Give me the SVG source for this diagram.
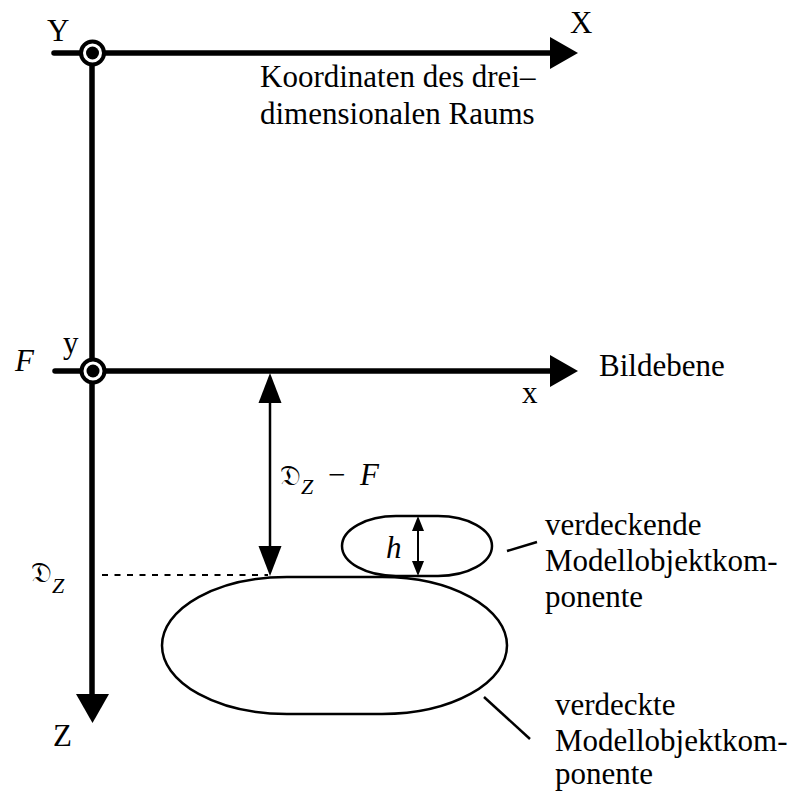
<svg xmlns="http://www.w3.org/2000/svg" width="793" height="792" viewBox="0 0 793 792">
<style>
text, tspan{font-family:'Liberation Serif','Times New Roman',Times,Tinos,'DejaVu Serif',serif}
.t{font-size:31px;fill:#000}
.i{font-style:italic}
.sub{font-style:italic;font-size:22px}
.frak{font-size:28px}
.axis{stroke:#000;stroke-width:5.5;fill:none;stroke-linecap:round}
.thin{stroke:#000;stroke-width:2.5;fill:none}
.shape{stroke:#000;stroke-width:2.5;fill:#fff}
.head{fill:#000;stroke:none}
</style>
<rect width="793" height="792" fill="#fff"/>
<g id="connectors">
  <line class="axis" x1="54" y1="53" x2="552" y2="53"/>
  <polygon class="head" points="550,37 578,53 550,69"/>
  <line class="axis" x1="55" y1="371" x2="552" y2="371"/>
  <polygon class="head" points="550,355 578,371 550,387"/>
  <line class="axis" x1="92" y1="53" x2="92" y2="697" style="stroke-linecap:butt"/>
  <polygon class="head" points="76,694 109,694 92.5,723"/>
  <line class="thin" x1="270" y1="398" x2="270" y2="550"/>
  <polygon class="head" points="270,373 281.5,403 258.5,403"/>
  <polygon class="head" points="258.5,546 281.5,546 270,576"/>
  <line x1="102" y1="575" x2="268" y2="575" stroke="#000" stroke-width="2" stroke-dasharray="6,6.5"/>
  <line class="thin" x1="507" y1="551" x2="537" y2="542"/>
  <line class="thin" x1="484" y1="697" x2="530" y2="739"/>
</g>
<g id="origin-top">
  <circle cx="92.5" cy="53" r="11.5" fill="#fff" stroke="#000" stroke-width="4"/>
  <circle cx="92.5" cy="53" r="6.5" fill="#000"/>
</g>
<g id="origin-image">
  <circle cx="93" cy="371" r="11.5" fill="#fff" stroke="#000" stroke-width="4"/>
  <circle cx="93" cy="371" r="6.5" fill="#000"/>
</g>
<g id="hidden-component">
  <rect class="shape" x="162" y="577" width="345" height="137" rx="125" ry="68.5"/>
</g>
<g id="occluding-component">
  <rect class="shape" x="342" y="516" width="150" height="60" rx="54" ry="30"/>
  <line class="thin" x1="418" y1="528" x2="418" y2="564" style="stroke-width:2"/>
  <polygon class="head" points="418,516 424,531 412,531"/>
  <polygon class="head" points="412,561 424,561 418,576"/>
  <text class="t i" x="386" y="558">h</text>
</g>
<g id="labels">
  <text class="t" x="47" y="41">Y</text>
  <text class="t" x="570" y="33">X</text>
  <text class="t" x="260" y="87">Koordinaten des drei–</text>
  <text class="t" x="260" y="124">dimensionalen Raums</text>
  <text class="t" x="63" y="353">y</text>
  <text class="t i" x="34" y="371" text-anchor="end">F</text>
  <text class="t" x="599" y="376">Bildebene</text>
  <text class="t" x="522" y="403">x</text>
  <text x="280" y="485"><tspan class="frak">𝔇</tspan><tspan class="sub" dy="9">Z</tspan><tspan class="t" x="328" dy="-9">−</tspan><tspan class="t i" x="360">F</tspan></text>
  <text x="31" y="582"><tspan class="frak">𝔇</tspan><tspan class="sub" dy="11">Z</tspan></text>
  <text class="t" x="53" y="746">Z</text>
  <text class="t" x="545" y="535">verdeckende</text>
  <text class="t" x="545" y="571">Modellobjektkom-</text>
  <text class="t" x="545" y="607">ponente</text>
  <text class="t" x="555" y="715">verdeckte</text>
  <text class="t" x="555" y="751">Modellobjektkom-</text>
  <text class="t" x="555" y="784">ponente</text>
</g>
</svg>
